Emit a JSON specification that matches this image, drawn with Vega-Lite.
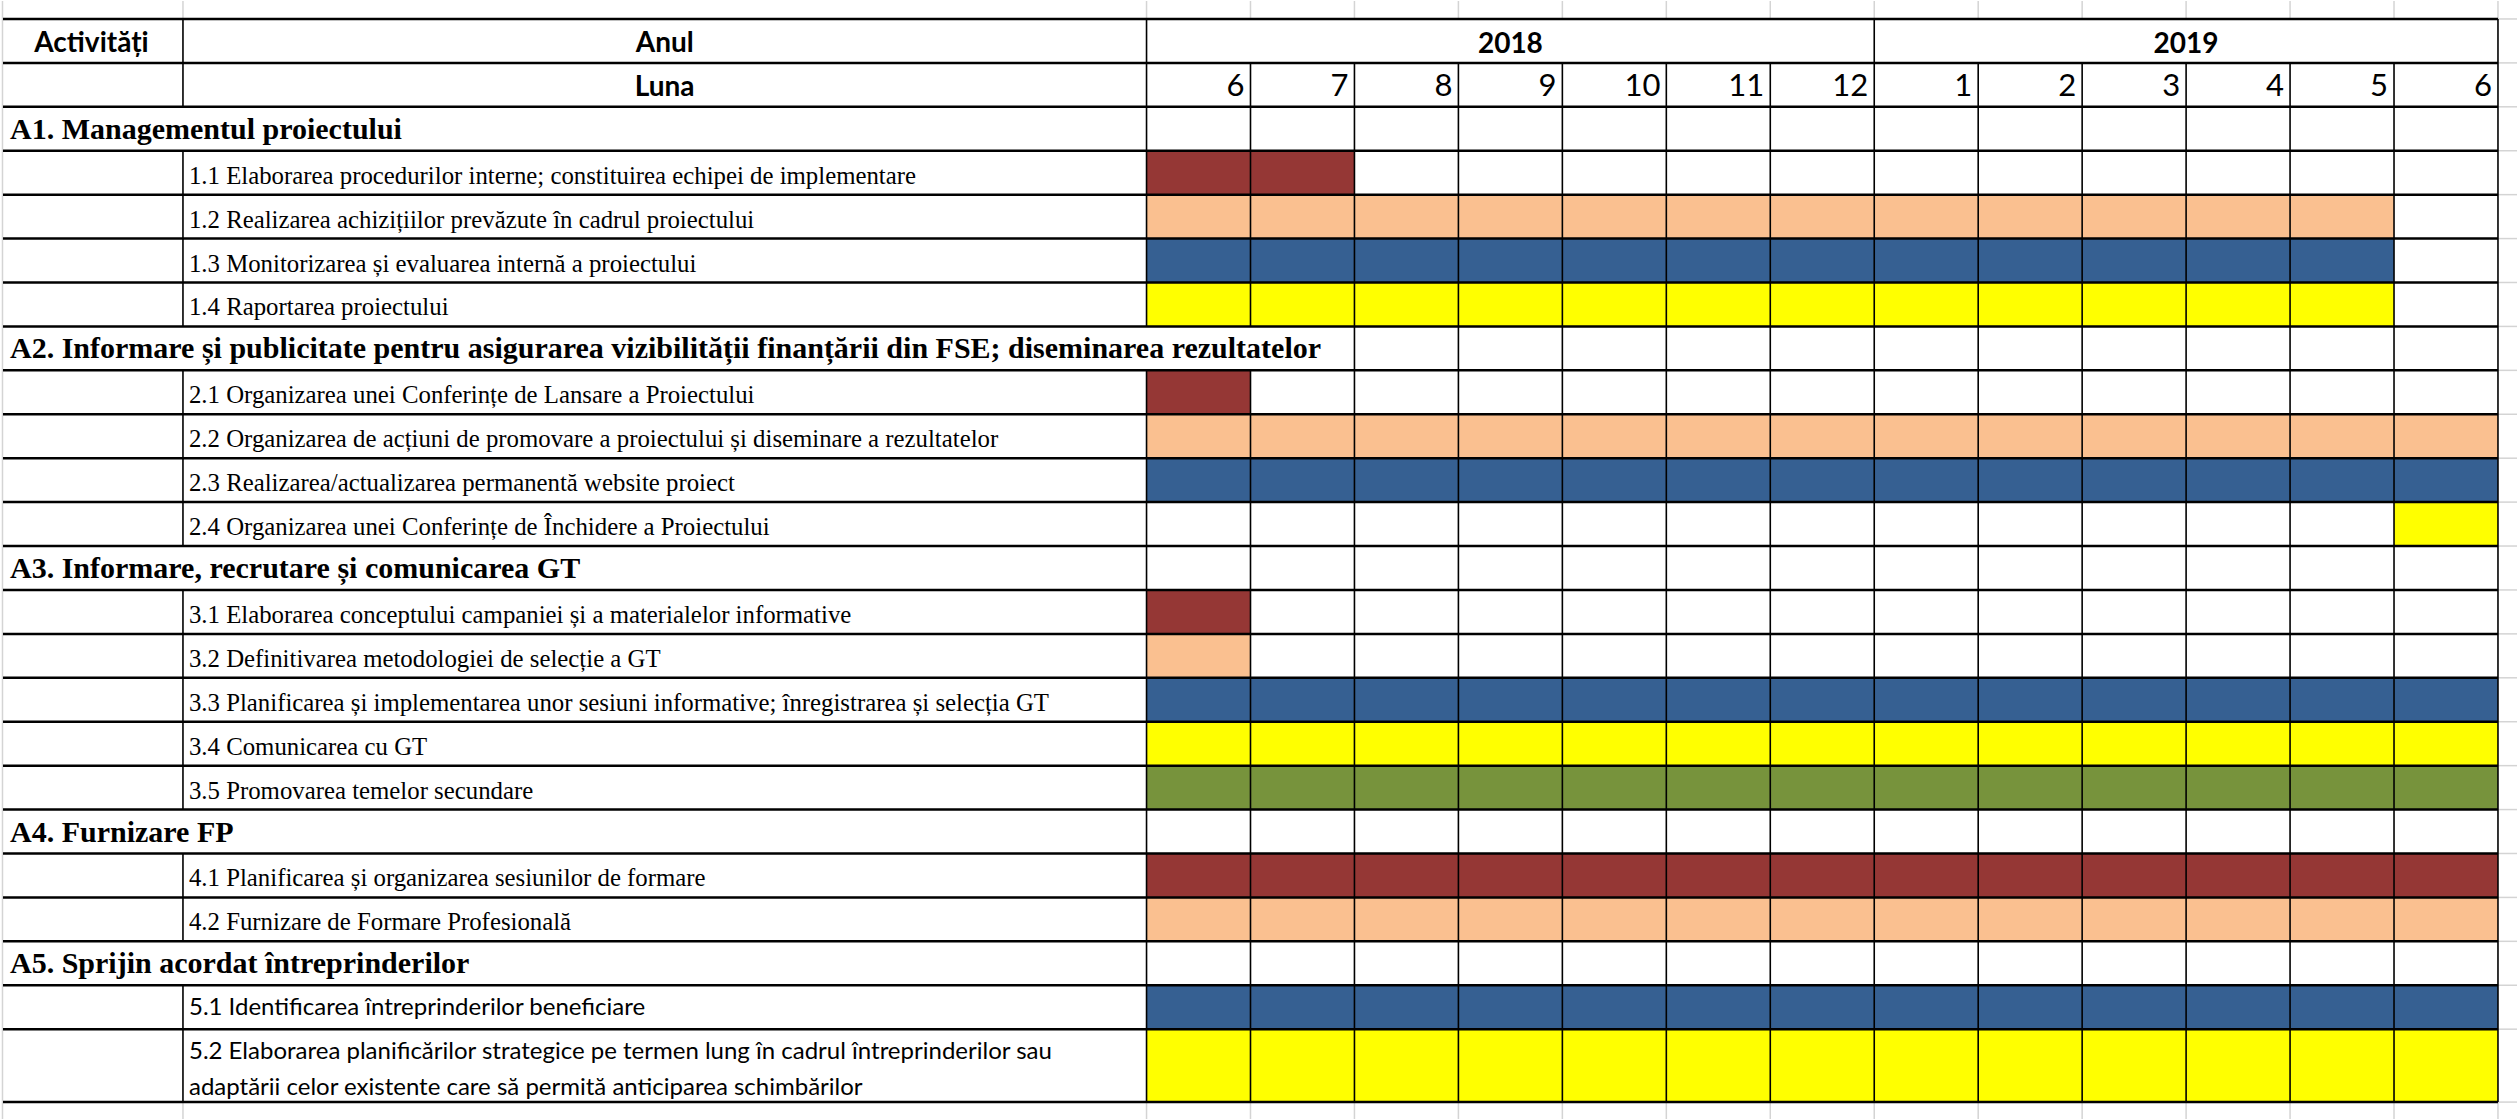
{
  "$schema": "https://vega.github.io/schema/vega-lite/v6.json",
  "width": 2518,
  "height": 1120,
  "autosize": {"type": "fit", "contains": "padding"},
  "padding": 0,
  "background": "#ffffff",
  "config": {"view": {"stroke": null}},
  "datasets": {
    "sections": [
      {"row": 2, "label": "A1. Managementul proiectului"},
      {"row": 7, "label": "A2. Informare și publicitate pentru asigurarea vizibilității finanțării din FSE; diseminarea rezultatelor"},
      {"row": 12, "label": "A3. Informare, recrutare și comunicarea GT"},
      {"row": 18, "label": "A4. Furnizare FP"},
      {"row": 21, "label": "A5. Sprijin acordat întreprinderilor"}
    ],
    "tasks": [
      {"row": 3, "row_end": 4, "font": "serif", "label": "1.1 Elaborarea procedurilor interne; constituirea echipei de implementare", "start": 0, "end": 2, "color": "dark red"},
      {"row": 4, "row_end": 5, "font": "serif", "label": "1.2 Realizarea achizițiilor prevăzute în cadrul proiectului", "start": 0, "end": 12, "color": "peach"},
      {"row": 5, "row_end": 6, "font": "serif", "label": "1.3 Monitorizarea și evaluarea internă a proiectului", "start": 0, "end": 12, "color": "blue"},
      {"row": 6, "row_end": 7, "font": "serif", "label": "1.4 Raportarea proiectului", "start": 0, "end": 12, "color": "yellow"},
      {"row": 8, "row_end": 9, "font": "serif", "label": "2.1 Organizarea unei Conferințe de Lansare a Proiectului", "start": 0, "end": 1, "color": "dark red"},
      {"row": 9, "row_end": 10, "font": "serif", "label": "2.2 Organizarea de acțiuni de promovare a proiectului și diseminare a rezultatelor", "start": 0, "end": 13, "color": "peach"},
      {"row": 10, "row_end": 11, "font": "serif", "label": "2.3 Realizarea/actualizarea permanentă website proiect", "start": 0, "end": 13, "color": "blue"},
      {"row": 11, "row_end": 12, "font": "serif", "label": "2.4 Organizarea unei Conferințe de Închidere a Proiectului", "start": 12, "end": 13, "color": "yellow"},
      {"row": 13, "row_end": 14, "font": "serif", "label": "3.1 Elaborarea conceptului campaniei și a materialelor informative", "start": 0, "end": 1, "color": "dark red"},
      {"row": 14, "row_end": 15, "font": "serif", "label": "3.2 Definitivarea metodologiei de selecție a GT", "start": 0, "end": 1, "color": "peach"},
      {"row": 15, "row_end": 16, "font": "serif", "label": "3.3 Planificarea și implementarea unor sesiuni informative; înregistrarea și selecția GT", "start": 0, "end": 13, "color": "blue"},
      {"row": 16, "row_end": 17, "font": "serif", "label": "3.4 Comunicarea cu GT", "start": 0, "end": 13, "color": "yellow"},
      {"row": 17, "row_end": 18, "font": "serif", "label": "3.5 Promovarea temelor secundare", "start": 0, "end": 13, "color": "green"},
      {"row": 19, "row_end": 20, "font": "serif", "label": "4.1 Planificarea și organizarea sesiunilor de formare", "start": 0, "end": 13, "color": "dark red"},
      {"row": 20, "row_end": 21, "font": "serif", "label": "4.2 Furnizare de Formare Profesională", "start": 0, "end": 13, "color": "peach"},
      {"row": 22, "row_end": 23, "font": "sans", "label": "5.1 Identificarea întreprinderilor beneficiare", "start": 0, "end": 13, "color": "blue"},
      {"row": 23, "row_end": 24.66, "font": "sans", "label": ["5.2 Elaborarea planificărilor strategice pe termen lung în cadrul întreprinderilor sau", "adaptării celor existente care să permită anticiparea schimbărilor"], "start": 0, "end": 13, "color": "yellow"}
    ],
    "months": [
      {"m": 0, "month": "6"}, {"m": 1, "month": "7"}, {"m": 2, "month": "8"}, {"m": 3, "month": "9"},
      {"m": 4, "month": "10"}, {"m": 5, "month": "11"}, {"m": 6, "month": "12"}, {"m": 7, "month": "1"},
      {"m": 8, "month": "2"}, {"m": 9, "month": "3"}, {"m": 10, "month": "4"}, {"m": 11, "month": "5"},
      {"m": 12, "month": "6"}
    ],
    "vlines": [
      {"x": -9.269, "y0": 0, "y1": 2}, {"x": -9.269, "y0": 3, "y1": 7}, {"x": -9.269, "y0": 8, "y1": 12},
      {"x": -9.269, "y0": 13, "y1": 18}, {"x": -9.269, "y0": 19, "y1": 21}, {"x": -9.269, "y0": 22, "y1": 24.66},
      {"x": 0, "y0": 0, "y1": 7}, {"x": 0, "y0": 8, "y1": 24.66},
      {"x": 1, "y0": 1, "y1": 7}, {"x": 1, "y0": 8, "y1": 24.66},
      {"x": 2, "y0": 1, "y1": 24.66}, {"x": 3, "y0": 1, "y1": 24.66}, {"x": 4, "y0": 1, "y1": 24.66},
      {"x": 5, "y0": 1, "y1": 24.66}, {"x": 6, "y0": 1, "y1": 24.66}, {"x": 7, "y0": 0, "y1": 24.66},
      {"x": 8, "y0": 1, "y1": 24.66}, {"x": 9, "y0": 1, "y1": 24.66}, {"x": 10, "y0": 1, "y1": 24.66},
      {"x": 11, "y0": 1, "y1": 24.66}, {"x": 12, "y0": 1, "y1": 24.66}, {"x": 13, "y0": 0, "y1": 24.66}
    ],
    "hlines": [
      {"y": 0}, {"y": 1}, {"y": 2}, {"y": 3}, {"y": 4}, {"y": 5}, {"y": 6}, {"y": 7}, {"y": 8}, {"y": 9},
      {"y": 10}, {"y": 11}, {"y": 12}, {"y": 13}, {"y": 14}, {"y": 15}, {"y": 16}, {"y": 17}, {"y": 18},
      {"y": 19}, {"y": 20}, {"y": 21}, {"y": 22}, {"y": 23}, {"y": 24.66}
    ],
    "greyv": [
      {"x": -11.005, "y0": -0.409, "y1": 25.045},
      {"x": -9.269, "y0": -0.409, "y1": 0}, {"x": -9.269, "y0": 24.66, "y1": 25.045},
      {"x": 0, "y0": -0.409, "y1": 0}, {"x": 0, "y0": 24.66, "y1": 25.045},
      {"x": 1, "y0": -0.409, "y1": 0}, {"x": 1, "y0": 24.66, "y1": 25.045},
      {"x": 2, "y0": -0.409, "y1": 0}, {"x": 2, "y0": 24.66, "y1": 25.045},
      {"x": 3, "y0": -0.409, "y1": 0}, {"x": 3, "y0": 24.66, "y1": 25.045},
      {"x": 4, "y0": -0.409, "y1": 0}, {"x": 4, "y0": 24.66, "y1": 25.045},
      {"x": 5, "y0": -0.409, "y1": 0}, {"x": 5, "y0": 24.66, "y1": 25.045},
      {"x": 6, "y0": -0.409, "y1": 0}, {"x": 6, "y0": 24.66, "y1": 25.045},
      {"x": 7, "y0": -0.409, "y1": 0}, {"x": 7, "y0": 24.66, "y1": 25.045},
      {"x": 8, "y0": -0.409, "y1": 0}, {"x": 8, "y0": 24.66, "y1": 25.045},
      {"x": 9, "y0": -0.409, "y1": 0}, {"x": 9, "y0": 24.66, "y1": 25.045},
      {"x": 10, "y0": -0.409, "y1": 0}, {"x": 10, "y0": 24.66, "y1": 25.045},
      {"x": 11, "y0": -0.409, "y1": 0}, {"x": 11, "y0": 24.66, "y1": 25.045},
      {"x": 12, "y0": -0.409, "y1": 0}, {"x": 12, "y0": 24.66, "y1": 25.045},
      {"x": 13, "y0": -0.409, "y1": 0}, {"x": 13, "y0": 24.66, "y1": 25.045}
    ]
  },
  "layer": [
    {
      "data": {"name": "tasks"},
      "mark": {"type": "rect", "strokeWidth": 0},
      "encoding": {
        "x": {"field": "start", "type": "quantitative", "axis": null, "scale": {"domain": [-11.029, 13.183], "nice": false, "zero": false}},
        "x2": {"field": "end"},
        "y": {"field": "row", "type": "quantitative", "axis": null, "scale": {"domain": [-0.409, 25.045], "nice": false, "zero": false, "reverse": true}},
        "y2": {"field": "row_end"},
        "color": {"field": "color", "type": "nominal", "legend": null,
          "scale": {"domain": ["dark red", "peach", "blue", "yellow", "green"], "range": ["#953735", "#FAC090", "#366092", "#FFFF00", "#77933C"]}}
      }
    },
    {
      "data": {"name": "greyv"},
      "mark": {"type": "rule", "color": "#d4d4d4", "strokeWidth": 1.5},
      "encoding": {
        "x": {"field": "x", "type": "quantitative", "axis": null, "scale": {"domain": [-11.029, 13.183], "nice": false, "zero": false}},
        "y": {"field": "y0", "type": "quantitative", "axis": null, "scale": {"domain": [-0.409, 25.045], "nice": false, "zero": false, "reverse": true}},
        "y2": {"field": "y1"}
      }
    },
    {
      "data": {"name": "hlines"},
      "mark": {"type": "rule", "color": "#d4d4d4", "strokeWidth": 1.5},
      "encoding": {
        "y": {"field": "y", "type": "quantitative", "axis": null, "scale": {"domain": [-0.409, 25.045], "nice": false, "zero": false, "reverse": true}},
        "x": {"datum": 13, "type": "quantitative", "axis": null, "scale": {"domain": [-11.029, 13.183], "nice": false, "zero": false}},
        "x2": {"datum": 13.183}
      }
    },
    {
      "data": {"name": "sections"},
      "mark": {"type": "text", "align": "left", "baseline": "alphabetic", "dx": 10, "dy": 32, "font": "Liberation Serif", "fontWeight": "bold", "fontSize": 30, "color": "#000000"},
      "encoding": {
        "x": {"datum": -11.029, "type": "quantitative", "axis": null, "scale": {"domain": [-11.029, 13.183], "nice": false, "zero": false}},
        "y": {"field": "row", "type": "quantitative", "axis": null, "scale": {"domain": [-0.409, 25.045], "nice": false, "zero": false, "reverse": true}},
        "text": {"field": "label"}
      }
    },
    {
      "data": {"name": "tasks"},
      "transform": [{"filter": "datum.font === 'serif'"}],
      "mark": {"type": "text", "align": "left", "baseline": "alphabetic", "dx": 6, "dy": 33, "font": "Liberation Serif", "fontSize": 24.8, "color": "#000000"},
      "encoding": {
        "x": {"datum": -9.269, "type": "quantitative", "axis": null, "scale": {"domain": [-11.029, 13.183], "nice": false, "zero": false}},
        "y": {"field": "row", "type": "quantitative", "axis": null, "scale": {"domain": [-0.409, 25.045], "nice": false, "zero": false, "reverse": true}},
        "text": {"field": "label"}
      }
    },
    {
      "data": {"name": "tasks"},
      "transform": [{"filter": "datum.font === 'sans'"}],
      "mark": {"type": "text", "align": "left", "baseline": "alphabetic", "dx": 6, "dy": 30, "font": "Lato", "fontSize": 24, "lineHeight": 36, "color": "#000000"},
      "encoding": {
        "x": {"datum": -9.269, "type": "quantitative", "axis": null, "scale": {"domain": [-11.029, 13.183], "nice": false, "zero": false}},
        "y": {"field": "row", "type": "quantitative", "axis": null, "scale": {"domain": [-0.409, 25.045], "nice": false, "zero": false, "reverse": true}},
        "text": {"field": "label"}
      }
    },
    {
      "data": {"values": [{"label": "Activități"}]},
      "mark": {"type": "text", "align": "center", "baseline": "alphabetic", "dy": 33, "font": "Lato", "fontWeight": "bold", "fontSize": 28, "color": "#000000"},
      "encoding": {
        "x": {"datum": -10.149, "type": "quantitative", "axis": null, "scale": {"domain": [-11.029, 13.183], "nice": false, "zero": false}},
        "y": {"datum": 0, "type": "quantitative", "axis": null, "scale": {"domain": [-0.409, 25.045], "nice": false, "zero": false, "reverse": true}},
        "text": {"field": "label"}
      }
    },
    {
      "data": {"values": [{"label": "Anul"}]},
      "mark": {"type": "text", "align": "center", "baseline": "alphabetic", "dy": 33, "font": "Lato", "fontWeight": "bold", "fontSize": 28, "color": "#000000"},
      "encoding": {
        "x": {"datum": -4.635, "type": "quantitative", "axis": null, "scale": {"domain": [-11.029, 13.183], "nice": false, "zero": false}},
        "y": {"datum": 0, "type": "quantitative", "axis": null, "scale": {"domain": [-0.409, 25.045], "nice": false, "zero": false, "reverse": true}},
        "text": {"field": "label"}
      }
    },
    {
      "data": {"values": [{"label": "Luna"}]},
      "mark": {"type": "text", "align": "center", "baseline": "alphabetic", "dy": 33, "font": "Lato", "fontWeight": "bold", "fontSize": 28, "color": "#000000"},
      "encoding": {
        "x": {"datum": -4.635, "type": "quantitative", "axis": null, "scale": {"domain": [-11.029, 13.183], "nice": false, "zero": false}},
        "y": {"datum": 1, "type": "quantitative", "axis": null, "scale": {"domain": [-0.409, 25.045], "nice": false, "zero": false, "reverse": true}},
        "text": {"field": "label"}
      }
    },
    {
      "data": {"values": [{"label": "2018"}]},
      "mark": {"type": "text", "align": "center", "baseline": "alphabetic", "dy": 34, "font": "Lato", "fontWeight": "bold", "fontSize": 28, "color": "#000000"},
      "encoding": {
        "x": {"datum": 3.5, "type": "quantitative", "axis": null, "scale": {"domain": [-11.029, 13.183], "nice": false, "zero": false}},
        "y": {"datum": 0, "type": "quantitative", "axis": null, "scale": {"domain": [-0.409, 25.045], "nice": false, "zero": false, "reverse": true}},
        "text": {"field": "label"}
      }
    },
    {
      "data": {"values": [{"label": "2019"}]},
      "mark": {"type": "text", "align": "center", "baseline": "alphabetic", "dy": 34, "font": "Lato", "fontWeight": "bold", "fontSize": 28, "color": "#000000"},
      "encoding": {
        "x": {"datum": 10, "type": "quantitative", "axis": null, "scale": {"domain": [-11.029, 13.183], "nice": false, "zero": false}},
        "y": {"datum": 0, "type": "quantitative", "axis": null, "scale": {"domain": [-0.409, 25.045], "nice": false, "zero": false, "reverse": true}},
        "text": {"field": "label"}
      }
    },
    {
      "data": {"name": "months"},
      "mark": {"type": "text", "align": "right", "baseline": "alphabetic", "dx": 98, "dy": 33, "font": "Lato", "fontSize": 31, "color": "#000000"},
      "encoding": {
        "x": {"field": "m", "type": "quantitative", "axis": null, "scale": {"domain": [-11.029, 13.183], "nice": false, "zero": false}},
        "y": {"datum": 1, "type": "quantitative", "axis": null, "scale": {"domain": [-0.409, 25.045], "nice": false, "zero": false, "reverse": true}},
        "text": {"field": "month"}
      }
    },
    {
      "data": {"name": "vlines"},
      "mark": {"type": "rule", "color": "#000000", "strokeWidth": 1.6},
      "encoding": {
        "x": {"field": "x", "type": "quantitative", "axis": null, "scale": {"domain": [-11.029, 13.183], "nice": false, "zero": false}},
        "y": {"field": "y0", "type": "quantitative", "axis": null, "scale": {"domain": [-0.409, 25.045], "nice": false, "zero": false, "reverse": true}},
        "y2": {"field": "y1"}
      }
    },
    {
      "data": {"name": "hlines"},
      "mark": {"type": "rule", "color": "#000000", "strokeWidth": 2.5},
      "encoding": {
        "y": {"field": "y", "type": "quantitative", "axis": null, "scale": {"domain": [-0.409, 25.045], "nice": false, "zero": false, "reverse": true}},
        "x": {"datum": -11.0, "type": "quantitative", "axis": null, "scale": {"domain": [-11.029, 13.183], "nice": false, "zero": false}},
        "x2": {"datum": 13.0}
      }
    }
  ]
}
